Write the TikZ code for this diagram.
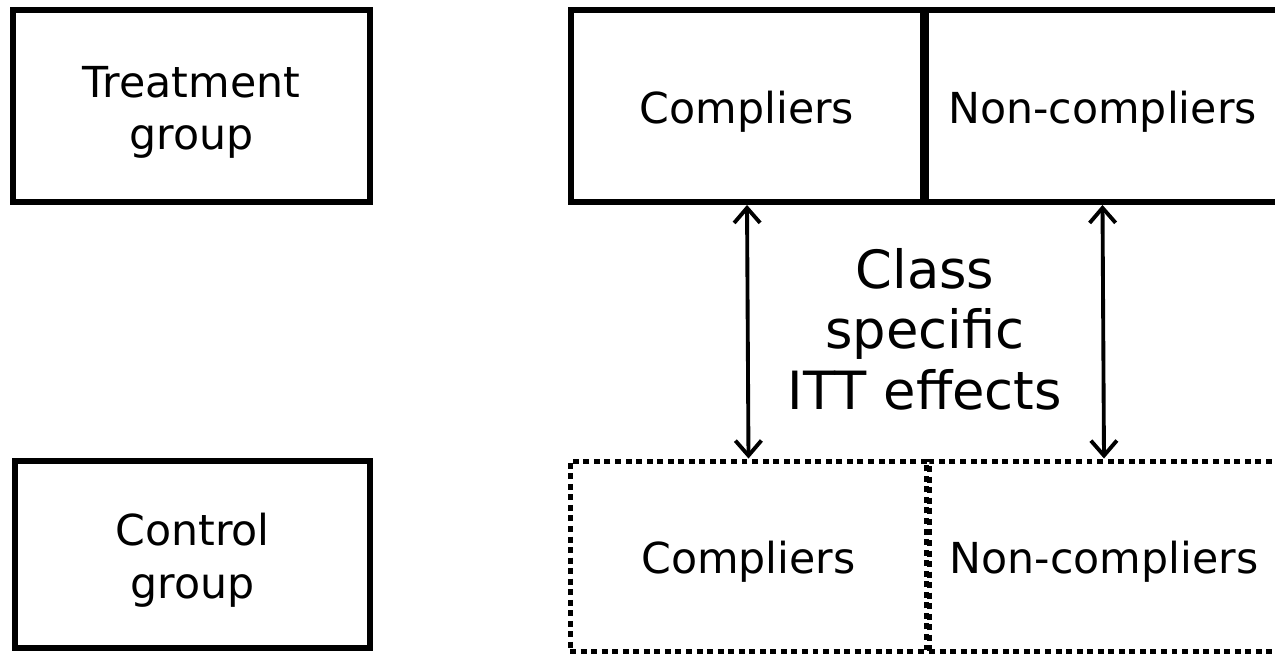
\documentclass[tikz,border=0pt]{standalone}
\usepackage{fontspec}
\setmainfont{DejaVu Sans}
\usetikzlibrary{arrows.meta}
\newcommand{\boxtext}[1]{\raisebox{-0.14cm}[\height][\depth]{\begin{tabular}{@{}c@{}}#1\end{tabular}}}
\tikzset{
  solidbox/.style={draw=black, line width=3.4pt, rectangle, inner sep=0pt,
    font=\fontsize{24.3}{29.8}\selectfont},
  dotbox/.style={draw=black, line width=2.85pt, dash pattern=on 3.4pt off 2.6pt, rectangle,
    inner sep=0pt, font=\fontsize{24.3}{29.8}\selectfont},
  twoway/.style={line width=2.2pt, {Straight Barb[length=0.3cm,width=0.52cm]}-{Straight Barb[length=0.3cm,width=0.52cm]}},
  bigtext/.style={align=center, font=\fontsize{30}{34.5}\selectfont, inner sep=0pt}
}
\begin{document}
\begin{tikzpicture}[x=0.02cm, y=-0.02cm]
\useasboundingbox (0,0) rectangle (1275,655);
\clip (0,0) rectangle (1275,655);
\fill[white] (0,0) rectangle (1275,655);
\node[solidbox, minimum width=7.14cm, minimum height=3.84cm] (tg) at (191.5,106) {\boxtext{Treatment\\group}};
\node[solidbox, minimum width=7.10cm, minimum height=3.74cm] (cg) at (192.5,554.5) {\boxtext{Control\\group}};
\node[solidbox, minimum width=7.04cm, minimum height=3.84cm] (tc) at (747,106) {\boxtext{Compliers}};
\node[solidbox, minimum width=7.06cm, minimum height=3.84cm] (tn) at (1102.5,106) {\boxtext{Non-compliers}};
\node[dotbox, minimum width=7.14cm, minimum height=3.82cm] (cc) at (748.5,556.5) {\boxtext{Compliers}};
\node[dotbox, minimum width=7.00cm, minimum height=3.82cm] (cn) at (1104,556.5) {\boxtext{Non-compliers}};
\node[bigtext] (lbl) at (925,329) {Class\\specific\\ITT effects};
\draw[twoway] (tc.south) -- (cc.north);
\draw[twoway] (tn.south) -- (cn.north);
\end{tikzpicture}
\end{document}
